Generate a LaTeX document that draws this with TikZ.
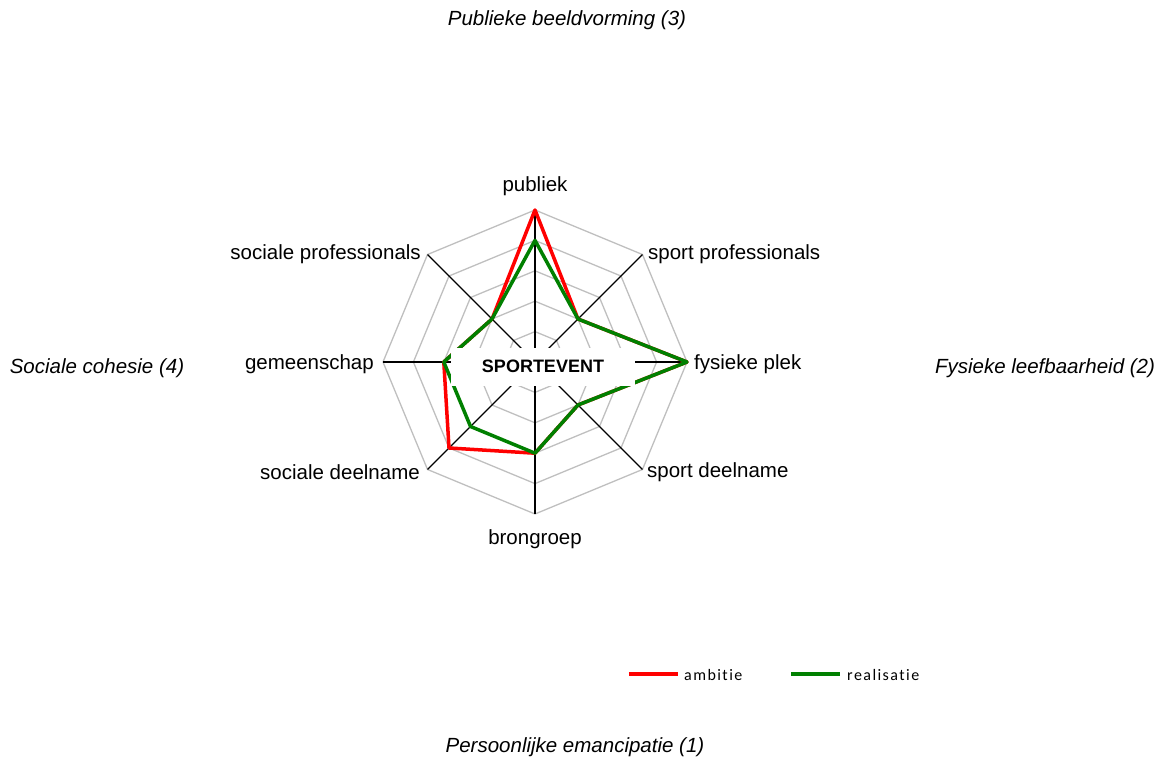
\documentclass[tikz,border=0pt]{standalone}
\usepackage{fontspec}
\setmainfont{Liberation Sans}
\newfontfamily\legendfont[LetterSpace=9,Ligatures=NoCommon]{Carlito}
\definecolor{ringgray}{RGB}{191,191,191}
\definecolor{realgreen}{RGB}{0,128,0}
\begin{document}
\begin{tikzpicture}[x=1pt,y=1pt,
  ring/.style={draw=ringgray, line width=1.3pt},
  spoke/.style={draw=black, line width=1.3pt},
  ambline/.style={draw=red, line width=3.5pt, line join=round},
  realline/.style={draw=realgreen, line width=3.5pt, line join=round},
  axlabel/.style={font=\fontsize{20.5}{24}\selectfont, inner sep=0pt},
  dimlabel/.style={font=\fontsize{20.5}{24}\selectfont\itshape, inner sep=0pt},
  hubbox/.style={fill=white, minimum width=184pt, minimum height=38pt, inner sep=0pt,
    font=\fontsize{18}{21}\selectfont\bfseries},
  legtext/.style={font=\legendfont\fontsize{16}{19}\selectfont, inner sep=0pt, anchor=west}]
\useasboundingbox (-535,-401) rectangle (630,362);

% one ring step of the scale 0..5
\def\unit{30.4}

% grid rings
\foreach \k in {1,...,5}{
  \draw[ring] (0:\unit*\k) \foreach \a in {45,90,...,315}{ -- (\a:\unit*\k)} -- cycle;
}

% spokes
\coordinate (c) at (0,0);
\foreach \a/\n in {90/pub,45/spp,0/fys,-45/spd,-90/bro,-135/sod,180/gem,135/sop}{
  \coordinate (\n) at (\a:5*\unit);
  \draw[spoke] (c) -- (\n);
}

% data points: ambitie and realisatie
\foreach \n/\a/\v/\w in {pub/90/5/4, spp/45/2/2, fys/0/5/5, spd/-45/2/2,
                         bro/-90/3/3, sod/-135/4/3, gem/180/3/3, sop/135/2/2}{
  \coordinate (a-\n) at (\a:\unit*\v);
  \coordinate (r-\n) at (\a:\unit*\w);
}
\draw[ambline] (a-pub) -- (a-spp) -- (a-fys) -- (a-spd) -- (a-bro) -- (a-sod) -- (a-gem) -- (a-sop) -- cycle;
\draw[realline] (r-pub) -- (r-spp) -- (r-fys) -- (r-spd) -- (r-bro) -- (r-sod) -- (r-gem) -- (r-sop) -- cycle;

% centre label
\node[hubbox] (hub) at (8,-4.5) {SPORTEVENT};

% axis labels
\node[axlabel] (l-pub) at (0,176) {publiek};
\node[axlabel, anchor=west] (l-spp) at (113,108) {sport professionals};
\node[axlabel, anchor=west] (l-fys) at (159,-2) {fysieke plek};
\node[axlabel, anchor=west] (l-spd) at (112,-110) {sport deelname};
\node[axlabel] (l-bro) at (0,-177) {brongroep};
\node[axlabel, anchor=east] (l-sod) at (-115,-110) {sociale deelname};
\node[axlabel, anchor=east] (l-gem) at (-161,-2) {gemeenschap};
\node[axlabel, anchor=east] (l-sop) at (-114,108) {sociale professionals};

% dimension titles
\node[dimlabel] (d-top) at (32,342) {Publieke beeldvorming (3)};
\node[dimlabel] (d-left) at (-438,-6) {Sociale cohesie (4)};
\node[dimlabel] (d-right) at (510,-6) {Fysieke leefbaarheid (2)};
\node[dimlabel] (d-bottom) at (40,-385) {Persoonlijke emancipatie (1)};

% legend
\coordinate (la1) at (94,-312);
\coordinate (la2) at (143,-312);
\coordinate (lr1) at (256,-312);
\coordinate (lr2) at (305,-312);
\draw[ambline, line width=4pt] (la1) -- (la2);
\draw[realline, line width=4pt] (lr1) -- (lr2);
\node[legtext] (t-amb) at (149,-313) {ambitie};
\node[legtext] (t-real) at (312,-313) {realisatie};
\end{tikzpicture}
\end{document}
